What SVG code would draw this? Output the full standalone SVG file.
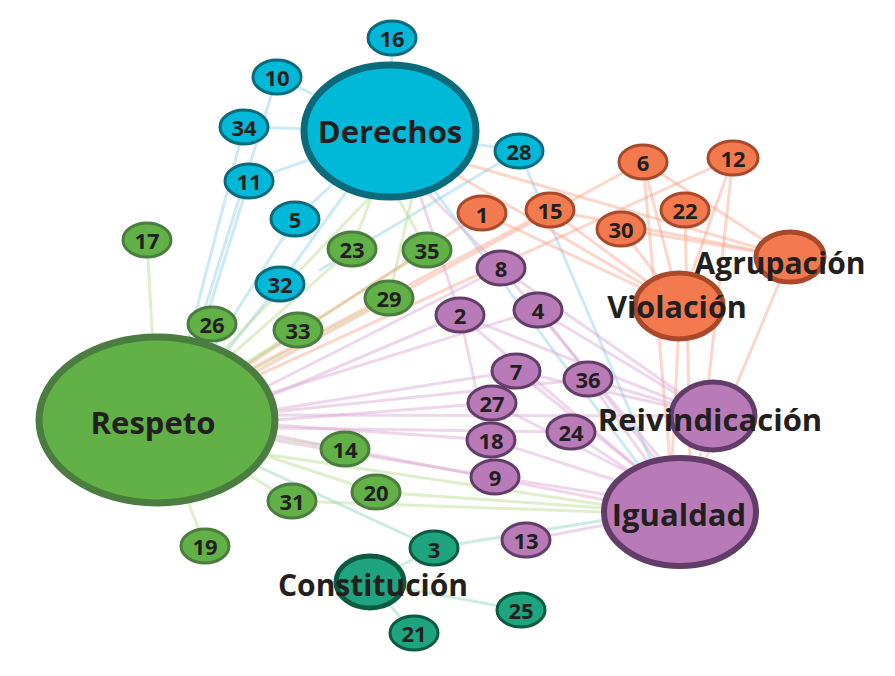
<svg xmlns="http://www.w3.org/2000/svg" width="895" height="676" viewBox="0 0 895 676">
<style>
text{font-family:"Open Sans","Liberation Sans",sans-serif;font-weight:700;fill:#231f20;text-anchor:middle;dominant-baseline:central}
.s{font-size:22px}
.b{font-size:31px}
.e line{stroke-width:3;stroke-opacity:.45;stroke-linecap:round}
.eb{stroke:#8fd0ea}.eg{stroke:#b9dc8c}.eo{stroke:#f7a58a}.ep{stroke:#dba6d2}.et{stroke:#8fd3bf}
.nb{fill:#00b9d9;stroke:#0b6b7d;stroke-width:3}
.ng{fill:#62b147;stroke:#4a7d3f;stroke-width:3}
.no{fill:#f37a4f;stroke:#a9492a;stroke-width:3}
.np{fill:#b97bb7;stroke:#623d69;stroke-width:3}
.nt{fill:#1ea57f;stroke:#0c5a40;stroke-width:3}
</style>
<rect width="895" height="676" fill="#fff"/>
<g id="connectors" class="e">
<!-- blue -->
<line class="eb" x1="390" y1="131" x2="392" y2="38"/>
<line class="eb" x1="390" y1="131" x2="277" y2="77"/>
<line class="eb" x1="390" y1="131" x2="244" y2="127"/>
<line class="eb" x1="390" y1="131" x2="249" y2="181"/>
<line class="eb" x1="390" y1="131" x2="295" y2="219"/>
<line class="eb" x1="390" y1="131" x2="519" y2="151"/>
<line class="eb" x1="390" y1="131" x2="280" y2="284"/>
<line class="eb" x1="390" y1="131" x2="650" y2="480"/>
<line class="eb" x1="277" y1="77" x2="195" y2="340"/>
<line class="eb" x1="244" y1="127" x2="188" y2="342"/>
<line class="eb" x1="249" y1="181" x2="200" y2="338"/>
<line class="eb" x1="295" y1="219" x2="215" y2="345"/>
<line class="eb" x1="280" y1="284" x2="220" y2="360"/>
<line class="eb" x1="519" y1="151" x2="320" y2="270"/>
<line class="eb" x1="519" y1="151" x2="655" y2="470"/>
<!-- green -->
<line class="eg" x1="157" y1="420" x2="147" y2="240"/>
<line class="eg" x1="157" y1="420" x2="212" y2="324"/>
<line class="eg" x1="157" y1="420" x2="352" y2="249"/>
<line class="eg" x1="157" y1="420" x2="427" y2="250"/>
<line class="eg" x1="157" y1="420" x2="389" y2="298"/>
<line class="eg" x1="157" y1="420" x2="298" y2="330"/>
<line class="eg" x1="157" y1="420" x2="345" y2="449"/>
<line class="eg" x1="157" y1="420" x2="376" y2="492"/>
<line class="eg" x1="157" y1="420" x2="292" y2="501"/>
<line class="eg" x1="157" y1="420" x2="205" y2="546"/>
<line class="eg" x1="157" y1="420" x2="372" y2="195"/>
<line class="eg" x1="352" y1="249" x2="372" y2="195"/>
<line class="eg" x1="427" y1="250" x2="398" y2="198"/>
<line class="eg" x1="389" y1="298" x2="412" y2="197"/>
<line class="eg" x1="376" y1="492" x2="605" y2="508"/>
<line class="eg" x1="292" y1="501" x2="605" y2="512"/>
<line class="eg" x1="270" y1="455" x2="605" y2="505"/>
<!-- orange -->
<line class="eo" x1="240" y1="370" x2="482" y2="213"/>
<line class="eo" x1="245" y1="372" x2="550" y2="210"/>
<line class="eo" x1="250" y1="375" x2="643" y2="162"/>
<line class="eo" x1="252" y1="378" x2="733" y2="158"/>
<line class="eo" x1="440" y1="165" x2="680" y2="306"/>
<line class="eo" x1="445" y1="158" x2="790" y2="257"/>
<line class="eo" x1="482" y1="213" x2="680" y2="306"/>
<line class="eo" x1="550" y1="210" x2="680" y2="306"/>
<line class="eo" x1="550" y1="210" x2="790" y2="257"/>
<line class="eo" x1="643" y1="162" x2="680" y2="306"/>
<line class="eo" x1="643" y1="162" x2="790" y2="257"/>
<line class="eo" x1="643" y1="162" x2="670" y2="460"/>
<line class="eo" x1="733" y1="158" x2="680" y2="306"/>
<line class="eo" x1="733" y1="158" x2="700" y2="460"/>
<line class="eo" x1="685" y1="210" x2="690" y2="460"/>
<line class="eo" x1="621" y1="229" x2="680" y2="306"/>
<line class="eo" x1="621" y1="229" x2="790" y2="257"/>
<line class="eo" x1="680" y1="306" x2="672" y2="460"/>
<line class="eo" x1="790" y1="257" x2="705" y2="460"/>
<!-- purple -->
<line class="ep" x1="260" y1="390" x2="501" y2="268"/>
<line class="ep" x1="265" y1="395" x2="538" y2="310"/>
<line class="ep" x1="265" y1="398" x2="460" y2="315"/>
<line class="ep" x1="272" y1="410" x2="516" y2="371"/>
<line class="ep" x1="272" y1="412" x2="588" y2="379"/>
<line class="ep" x1="275" y1="420" x2="492" y2="403"/>
<line class="ep" x1="275" y1="425" x2="491" y2="440"/>
<line class="ep" x1="275" y1="428" x2="571" y2="432"/>
<line class="ep" x1="272" y1="440" x2="495" y2="477"/>
<line class="ep" x1="275" y1="415" x2="670" y2="416"/>
<line class="ep" x1="272" y1="435" x2="605" y2="500"/>
<line class="ep" x1="425" y1="190" x2="501" y2="268"/>
<line class="ep" x1="420" y1="195" x2="460" y2="315"/>
<line class="ep" x1="501" y1="268" x2="670" y2="470"/>
<line class="ep" x1="501" y1="268" x2="713" y2="416"/>
<line class="ep" x1="538" y1="310" x2="660" y2="465"/>
<line class="ep" x1="538" y1="310" x2="713" y2="416"/>
<line class="ep" x1="460" y1="315" x2="640" y2="470"/>
<line class="ep" x1="460" y1="315" x2="713" y2="416"/>
<line class="ep" x1="460" y1="315" x2="495" y2="477"/>
<line class="ep" x1="516" y1="371" x2="640" y2="470"/>
<line class="ep" x1="516" y1="371" x2="713" y2="416"/>
<line class="ep" x1="588" y1="379" x2="650" y2="465"/>
<line class="ep" x1="588" y1="379" x2="713" y2="416"/>
<line class="ep" x1="492" y1="403" x2="640" y2="478"/>
<line class="ep" x1="491" y1="440" x2="630" y2="485"/>
<line class="ep" x1="571" y1="432" x2="640" y2="478"/>
<line class="ep" x1="495" y1="477" x2="610" y2="495"/>
<line class="ep" x1="526" y1="540" x2="605" y2="525"/>
<!-- teal -->
<line class="et" x1="255" y1="465" x2="434" y2="548"/>
<line class="et" x1="434" y1="548" x2="370" y2="582"/>
<line class="et" x1="434" y1="548" x2="605" y2="520"/>
<line class="et" x1="370" y1="582" x2="521" y2="610"/>
<line class="et" x1="370" y1="582" x2="414" y2="633"/>
</g>
<g id="Derechos"><ellipse class="nb" cx="390" cy="131" rx="86" ry="66" style="stroke-width:7"/><text class="b" x="390" y="131">Derechos</text></g>
<g id="n16"><ellipse class="nb" cx="392" cy="38" rx="24" ry="17"/><text class="s" x="392" y="38">16</text></g>
<g id="n10"><ellipse class="nb" cx="277" cy="77" rx="24" ry="17"/><text class="s" x="277" y="77">10</text></g>
<g id="n34"><ellipse class="nb" cx="244" cy="127" rx="24" ry="17"/><text class="s" x="244" y="127">34</text></g>
<g id="n11"><ellipse class="nb" cx="249" cy="181" rx="24" ry="17"/><text class="s" x="249" y="181">11</text></g>
<g id="n5"><ellipse class="nb" cx="295" cy="219" rx="24" ry="17"/><text class="s" x="295" y="219">5</text></g>
<g id="n28"><ellipse class="nb" cx="519" cy="151" rx="24" ry="17"/><text class="s" x="519" y="151">28</text></g>
<g id="n32"><ellipse class="nb" cx="280" cy="284" rx="24" ry="17"/><text class="s" x="280" y="284">32</text></g>
<g id="Respeto"><ellipse class="ng" cx="157" cy="420" rx="118" ry="83" style="stroke-width:7"/><text class="b" x="153" y="422">Respeto</text></g>
<g id="n17"><ellipse class="ng" cx="147" cy="240" rx="24" ry="17"/><text class="s" x="147" y="240">17</text></g>
<g id="n26"><ellipse class="ng" cx="212" cy="324" rx="24" ry="17"/><text class="s" x="212" y="324">26</text></g>
<g id="n23"><ellipse class="ng" cx="352" cy="249" rx="24" ry="17"/><text class="s" x="352" y="249">23</text></g>
<g id="n35"><ellipse class="ng" cx="427" cy="250" rx="24" ry="17"/><text class="s" x="427" y="250">35</text></g>
<g id="n29"><ellipse class="ng" cx="389" cy="298" rx="24" ry="17"/><text class="s" x="389" y="298">29</text></g>
<g id="n33"><ellipse class="ng" cx="298" cy="330" rx="24" ry="17"/><text class="s" x="298" y="330">33</text></g>
<g id="n14"><ellipse class="ng" cx="345" cy="449" rx="24" ry="17"/><text class="s" x="345" y="449">14</text></g>
<g id="n20"><ellipse class="ng" cx="376" cy="492" rx="24" ry="17"/><text class="s" x="376" y="492">20</text></g>
<g id="n31"><ellipse class="ng" cx="292" cy="501" rx="24" ry="17"/><text class="s" x="292" y="501">31</text></g>
<g id="n19"><ellipse class="ng" cx="205" cy="546" rx="24" ry="17"/><text class="s" x="205" y="546">19</text></g>
<g id="n1"><ellipse class="no" cx="482" cy="213" rx="24" ry="17"/><text class="s" x="482" y="214">1</text></g>
<g id="n15"><ellipse class="no" cx="550" cy="210" rx="24" ry="17"/><text class="s" x="550" y="210">15</text></g>
<g id="n6"><ellipse class="no" cx="643" cy="162" rx="24" ry="17"/><text class="s" x="643" y="162">6</text></g>
<g id="n12"><ellipse class="no" cx="733" cy="158" rx="25" ry="17"/><text class="s" x="733" y="158">12</text></g>
<g id="n22"><ellipse class="no" cx="685" cy="210" rx="24" ry="17"/><text class="s" x="685" y="210">22</text></g>
<g id="n30"><ellipse class="no" cx="621" cy="229" rx="24" ry="17"/><text class="s" x="621" y="229">30</text></g>
<g id="Agrupacion"><ellipse class="no" cx="790" cy="257" rx="34" ry="25" style="stroke-width:5"/><text class="b" x="780" y="262" style="font-size:30px">Agrupación</text></g>
<g id="Violacion"><ellipse class="no" cx="679" cy="306" rx="44" ry="33" style="stroke-width:5"/><text class="b" x="677" y="306" style="font-size:30.5px">Violación</text></g>
<g id="n8"><ellipse class="np" cx="501" cy="268" rx="24" ry="17"/><text class="s" x="501" y="268">8</text></g>
<g id="n4"><ellipse class="np" cx="538" cy="310" rx="24" ry="17"/><text class="s" x="538" y="310">4</text></g>
<g id="n2"><ellipse class="np" cx="460" cy="315" rx="24" ry="17"/><text class="s" x="460" y="315">2</text></g>
<g id="n7"><ellipse class="np" cx="516" cy="371" rx="24" ry="17"/><text class="s" x="516" y="371">7</text></g>
<g id="n36"><ellipse class="np" cx="588" cy="379" rx="24" ry="17"/><text class="s" x="588" y="379">36</text></g>
<g id="n27"><ellipse class="np" cx="492" cy="403" rx="24" ry="17"/><text class="s" x="492" y="403">27</text></g>
<g id="n18"><ellipse class="np" cx="491" cy="440" rx="24" ry="17"/><text class="s" x="491" y="440">18</text></g>
<g id="n24"><ellipse class="np" cx="571" cy="432" rx="24" ry="17"/><text class="s" x="571" y="432">24</text></g>
<g id="n9"><ellipse class="np" cx="495" cy="477" rx="24" ry="17"/><text class="s" x="495" y="477">9</text></g>
<g id="n13"><ellipse class="np" cx="526" cy="540" rx="24" ry="17"/><text class="s" x="526" y="540">13</text></g>
<g id="Reivindicacion"><ellipse class="np" cx="713" cy="416" rx="42" ry="34" style="stroke-width:5"/><text class="b" x="710" y="419" style="font-size:31px">Reivindicación</text></g>
<g id="Igualdad"><ellipse class="np" cx="680" cy="512" rx="76" ry="54" style="stroke-width:6"/><text class="b" x="679" y="514">Igualdad</text></g>
<g id="Constitucion"><ellipse class="nt" cx="370" cy="582" rx="34" ry="26" style="stroke-width:5"/><text class="b" x="373" y="584" style="font-size:30px">Constitución</text></g>
<g id="n3"><ellipse class="nt" cx="434" cy="548" rx="24" ry="17"/><text class="s" x="434" y="549">3</text></g>
<g id="n25"><ellipse class="nt" cx="521" cy="610" rx="24" ry="17"/><text class="s" x="521" y="610">25</text></g>
<g id="n21"><ellipse class="nt" cx="414" cy="633" rx="24" ry="17"/><text class="s" x="414" y="633">21</text></g>
</svg>
